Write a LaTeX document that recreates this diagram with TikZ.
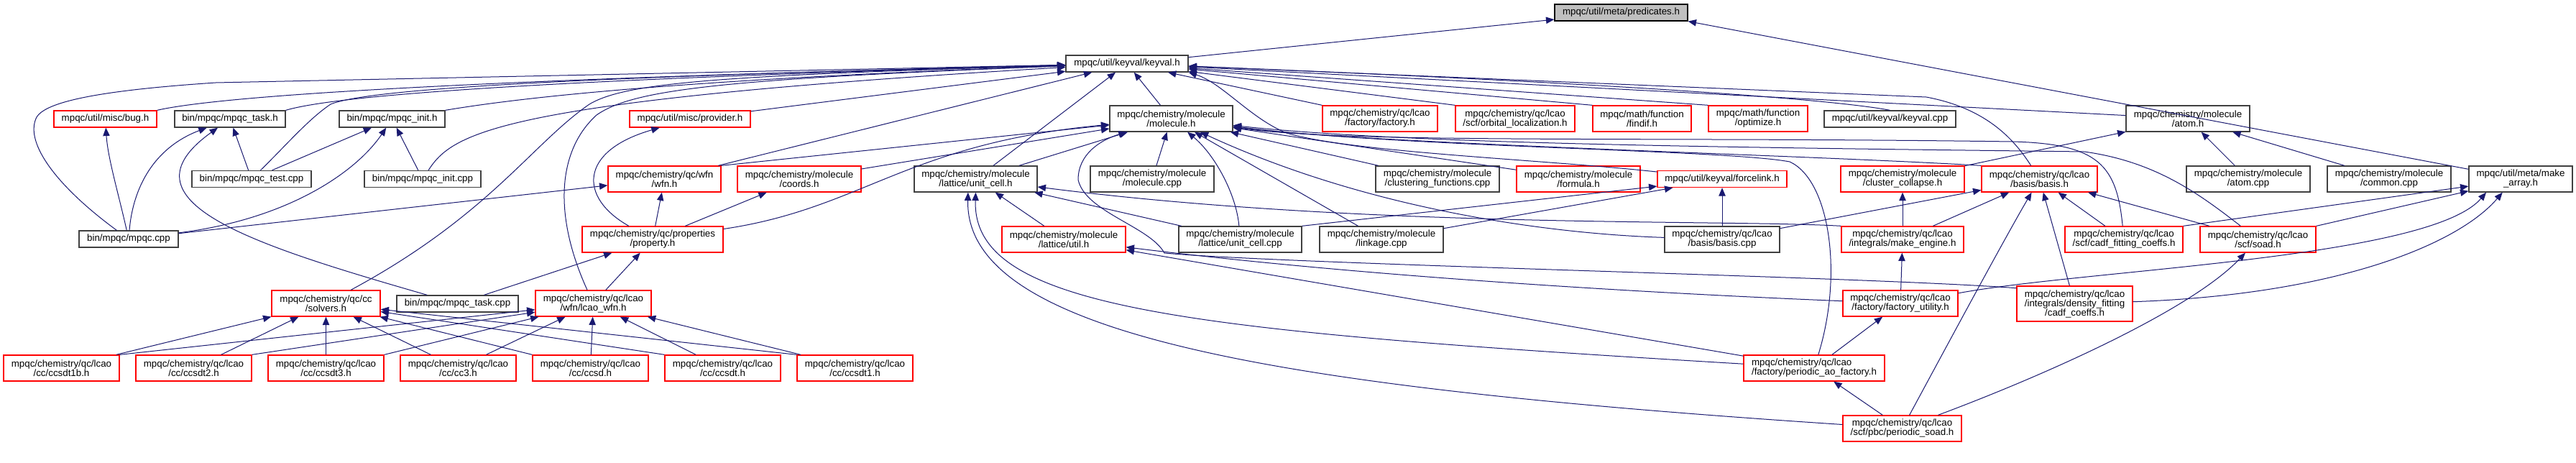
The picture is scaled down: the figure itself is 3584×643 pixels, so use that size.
\documentclass[tikz,border=0pt]{standalone}
\usepackage{fontspec}
\setmainfont{Liberation Sans}
\usepackage{xcolor}
\usepackage{tikz}
\usetikzlibrary{arrows.meta,positioning}
\definecolor{edgeblue}{HTML}{191970}
\definecolor{cutred}{HTML}{FF0000}
\definecolor{frame}{HTML}{404040}
\definecolor{focus}{HTML}{BFBFBF}

\begin{document}
\begin{tikzpicture}[x=0.75pt,y=-0.75pt,
    hfile/.style={draw=frame, line width=1pt, fill=white, inner sep=0pt, align=center,
      font={\fontsize{10}{9.75}\selectfont}},
    trunc/.style={hfile, draw=cutred},
    focusbox/.style={hfile, draw=black, fill=focus},
    w/.style={minimum width=#1*0.75pt},
    one/.style={minimum height=17.25pt},
    two/.style={minimum height=27pt},
    three/.style={minimum height=36.75pt},
    inc/.style={draw=edgeblue, line width=0.75pt, -{Triangle[length=8.5pt,width=7pt]}}]
  \fill[white] (0,0) rectangle (3584,643);
  \useasboundingbox (0,0) rectangle (3584,643);

  % row 0 and 1
  \node[focusbox, w=185, one] (pred) at (2255.5,17.5) {mpqc/util/meta/predicates.h};
  \node[hfile, w=170, one] (keyval) at (1568,88.5) {mpqc/util/keyval/keyval.h};

  % row 2
  \node[trunc, w=143, one] (bug) at (146.5,165.5) {mpqc/util/misc/bug.h};
  \node[hfile, w=154, one] (taskh) at (320,165.5) {bin/mpqc/mpqc\_task.h};
  \node[hfile, w=147, one] (inith) at (545.5,165.5) {bin/mpqc/mpqc\_init.h};
  \node[trunc, w=168, one] (provider) at (960,165.5) {mpqc/util/misc/provider.h};
  \node[hfile, w=171, two] (molh) at (1629.5,165) {mpqc/chemistry/molecule\\/molecule.h};
  \node[trunc, w=160, two] (factory) at (1920,165) {mpqc/chemistry/qc/lcao\\/factory/factory.h};
  \node[trunc, w=166, two] (orbloc) at (2108,165) {mpqc/chemistry/qc/lcao\\/scf/orbital\_localization.h};
  \node[trunc, w=137, two] (findif) at (2284.5,165) {mpqc/math/function\\/findif.h};
  \node[trunc, w=138, two] (optimize) at (2446,165) {mpqc/math/function\\/optimize.h};
  \node[hfile, w=183, one] (kvcpp) at (2629.5,165.5) {mpqc/util/keyval/keyval.cpp};
  \node[hfile, w=172, two] (atomh) at (3044,165) {mpqc/chemistry/molecule\\/atom.h};

  % row 3
  \node[hfile, w=166, one] (testcpp) at (350,249) {bin/mpqc/mpqc\_test.cpp};
  \node[hfile, w=162, one] (initcpp) at (588,249) {bin/mpqc/mpqc\_init.cpp};
  \node[trunc, w=157, two] (wfn) at (924.5,249) {mpqc/chemistry/qc/wfn\\/wfn.h};
  \node[trunc, w=172, two] (coords) at (1112,249) {mpqc/chemistry/molecule\\/coords.h};
  \node[hfile, w=171, two] (ucell) at (1357.5,249) {mpqc/chemistry/molecule\\/lattice/unit\_cell.h};
  \node[hfile, w=172, two] (molcpp) at (1603,249) {mpqc/chemistry/molecule\\/molecule.cpp};
  \node[hfile, w=172, two] (clustering) at (2000,249) {mpqc/chemistry/molecule\\/clustering\_functions.cpp};
  \node[trunc, w=172, two] (formula) at (2196,249) {mpqc/chemistry/molecule\\/formula.h};
  \node[trunc, w=180, one] (forcelink) at (2396,249) {mpqc/util/keyval/forcelink.h};
  \node[trunc, w=172, two] (collapse) at (2647,249) {mpqc/chemistry/molecule\\/cluster\_collapse.h};
  \node[trunc, w=161, two] (basish) at (2837.5,249) {mpqc/chemistry/qc/lcao\\/basis/basis.h};
  \node[hfile, w=172, two] (atomcpp) at (3128,249) {mpqc/chemistry/molecule\\/atom.cpp};
  \node[hfile, w=172, two] (common) at (3324,249) {mpqc/chemistry/molecule\\/common.cpp};
  \node[hfile, w=144, two] (makearray) at (3507,249) {mpqc/util/meta/make\\\_array.h};

  % row 4
  \node[hfile, w=138, one] (mpqccpp) at (179,332.5) {bin/mpqc/mpqc.cpp};
  \node[trunc, w=196, two] (property) at (908,333) {mpqc/chemistry/qc/properties\\/property.h};
  \node[trunc, w=172, two] (latutil) at (1480,333) {mpqc/chemistry/molecule\\/lattice/util.h};
  \node[hfile, w=171, two] (ucellcpp) at (1725.5,333) {mpqc/chemistry/molecule\\/lattice/unit\_cell.cpp};
  \node[hfile, w=172, two] (linkage) at (1922,333) {mpqc/chemistry/molecule\\/linkage.cpp};
  \node[hfile, w=160, two] (basiscpp) at (2396,333) {mpqc/chemistry/qc/lcao\\/basis/basis.cpp};
  \node[trunc, w=170, two] (engine) at (2647,333) {mpqc/chemistry/qc/lcao\\/integrals/make\_engine.h};
  \node[trunc, w=164, two] (fitcoeffs) at (2955,333) {mpqc/chemistry/qc/lcao\\/scf/cadf\_fitting\_coeffs.h};
  \node[trunc, w=161, two] (soad) at (3141.5,333) {mpqc/chemistry/qc/lcao\\/scf/soad.h};

  % row 5
  \node[trunc, w=151, two] (solvers) at (453.5,422) {mpqc/chemistry/qc/cc\\/solvers.h};
  \node[hfile, w=169, one] (taskcpp) at (636.5,422.5) {bin/mpqc/mpqc\_task.cpp};
  \node[trunc, w=161, two] (lcaowfn) at (825.5,422) {mpqc/chemistry/qc/lcao\\/wfn/lcao\_wfn.h};
  \node[trunc, w=160, two] (factutil) at (2644,422) {mpqc/chemistry/qc/lcao\\/factory/factory\_utility.h};
  \node[trunc, w=161, three] (cadfcoeffs) at (2886.5,422.5) {mpqc/chemistry/qc/lcao\\/integrals/density\_fitting\\/cadf\_coeffs.h};

  % row 6 and 7
  \node[trunc, w=161, two] (cc1b) at (85.5,512) {mpqc/chemistry/qc/lcao\\/cc/ccsdt1b.h};
  \node[trunc, w=161, two] (cc2) at (269.5,512) {mpqc/chemistry/qc/lcao\\/cc/ccsdt2.h};
  \node[trunc, w=161, two] (cc3t) at (453.5,512) {mpqc/chemistry/qc/lcao\\/cc/ccsdt3.h};
  \node[trunc, w=161, two] (cc3) at (637.5,512) {mpqc/chemistry/qc/lcao\\/cc/cc3.h};
  \node[trunc, w=161, two] (ccsd) at (821.5,512) {mpqc/chemistry/qc/lcao\\/cc/ccsd.h};
  \node[trunc, w=161, two] (ccsdt) at (1005.5,512) {mpqc/chemistry/qc/lcao\\/cc/ccsdt.h};
  \node[trunc, w=161, two] (cc1) at (1189.5,512) {mpqc/chemistry/qc/lcao\\/cc/ccsdt1.h};
  \node[trunc, w=196, two, align=left] (pao) at (2524,512) {mpqc/chemistry/qc/lcao\\/factory/periodic\_ao\_factory.h};
  \node[trunc, w=165, two] (psoad) at (2646.5,596) {mpqc/chemistry/qc/lcao\\/scf/pbc/periodic\_soad.h};

  % predicates.h
  \draw[inc] (keyval) -- (pred);
  \draw[inc] (makearray) -- (pred.south east);

  % keyval.h, left side
  \draw[inc] (bug.north east) .. controls (300,135) and (600,112) .. (keyval);
  \draw[inc] (taskh.north east) .. controls (460,135) and (700,112) .. (keyval);
  \draw[inc] (inith.north east) .. controls (700,140) and (900,112) .. (keyval);
  \draw[inc] (mpqccpp) .. controls (80,260) and (35,200) .. (50,165)
    .. controls (60,140) and (150,125) .. (300,115) -- (keyval);
  \draw[inc] (testcpp) .. controls (400,200) and (430,165) .. (460,145)
    .. controls (520,120) and (900,105) .. (keyval);
  \draw[inc] (initcpp) .. controls (630,185) and (690,140) .. (keyval);
  \draw[inc] (solvers) .. controls (680,300) and (740,200) .. (820,145)
    .. controls (870,115) and (1000,105) .. (keyval);
  \draw[inc] (lcaowfn) .. controls (770,300) and (775,210) .. (830,160)
    .. controls (880,125) and (1000,110) .. (keyval);
  \draw[inc] (provider) -- (keyval);
  \draw[inc] (wfn) -- (keyval);
  \draw[inc] (ucell) -- (keyval);
  \draw[inc] (molh) -- (keyval);

  % keyval.h, right side
  \draw[inc] (factory.north west) -- (keyval);
  \draw[inc] (orbloc.north west) -- (keyval);
  \draw[inc] (findif.north west) -- (keyval);
  \draw[inc] (optimize.north west) -- (keyval);
  \draw[inc] (kvcpp.north) .. controls (2560,140) and (2300,118) .. (keyval);
  \draw[inc] (atomh) -- (keyval);
  \draw[inc] (basish) .. controls (2800,190) and (2760,150) .. (2680,135) -- (keyval);
  \draw[inc] (forcelink) .. controls (2150,222) and (1880,212) .. (1790,185)
    .. controls (1740,165) and (1700,115) .. (keyval.south east);

  % molecule.h
  \draw[inc] (wfn.north east) -- (molh);
  \draw[inc] (coords) -- (molh);
  \draw[inc] (property) .. controls (1200,290) and (1260,200) .. (molh);
  \draw[inc] (ucell) -- (molh);
  \draw[inc] (molcpp) -- (molh);
  \draw[inc] (ucellcpp) .. controls (1720,270) and (1690,215) .. (molh);
  \draw[inc] (linkage) -- (molh);
  \draw[inc] (clustering) -- (molh);
  \draw[inc] (formula) -- (molh);
  \draw[inc] (basiscpp) .. controls (2150,325) and (1900,290) .. (molh);
  \draw[inc] (basish.north west) .. controls (2500,215) and (1900,200) .. (molh);
  \draw[inc] (fitcoeffs) .. controls (2945,230) and (2920,200) .. (2800,197)
    .. controls (2300,190) and (1880,200) .. (molh);
  \draw[inc] (soad) .. controls (3060,270) and (3000,225) .. (2900,211)
    .. controls (2400,205) and (1950,200) .. (molh);
  \draw[inc] (pao) .. controls (2565,380) and (2545,250) .. (2490,225)
    .. controls (2400,208) and (1950,205) .. (molh);
  \draw[inc] (cadfcoeffs.165) .. controls (2600,385) and (1800,368) .. (1620,352)
    .. controls (1600,315) and (1510,295) .. (1500,250)
    .. controls (1500,215) and (1530,195) .. (molh);

  % lattice/unit_cell.h and lattice/util.h
  \draw[inc] (latutil) -- (ucell);
  \draw[inc] (ucellcpp) -- (ucell);
  \draw[inc] (engine.north west) .. controls (2400,305) and (1900,318) .. (ucell);
  \draw[inc] (pao) .. controls (1650,460) and (1352,430) .. (ucell.south);
  \draw[inc] (psoad) .. controls (1800,540) and (1342,470) .. ([xshift=-8pt]ucell.south);
  \draw[inc] (factutil) .. controls (2300,408) and (1900,385) .. (latutil);
  \draw[inc] (pao) -- (latutil);

  % forcelink.h
  \draw[inc] (basiscpp) -- (forcelink);
  \draw[inc] (ucellcpp.north east) -- (forcelink);
  \draw[inc] (linkage) -- (forcelink);

  % basis.h
  \draw[inc] (basiscpp) -- (basish);
  \draw[inc] (engine) -- (basish);
  \draw[inc] (psoad) .. controls (2720,460) and (2790,330) .. (basish);
  \draw[inc] (cadfcoeffs) -- (basish);
  \draw[inc] (fitcoeffs) -- (basish);
  \draw[inc] (soad) -- (basish);

  % atom.h
  \draw[inc] (engine) -- (collapse);
  \draw[inc] (collapse) -- (atomh);
  \draw[inc] (atomcpp) -- (atomh);
  \draw[inc] (common) -- (atomh);

  % make_array.h
  \draw[inc] (fitcoeffs.north east) -- (makearray);
  \draw[inc] (soad) -- (makearray);
  \draw[inc] (factutil.10) .. controls (2900,375) and (3380,360) .. ([xshift=-36pt]makearray.south);
  \draw[inc] (cadfcoeffs) .. controls (3250,410) and (3420,340) .. ([xshift=-19pt]makearray.south);

  % periodic files
  \draw[inc] (pao) -- (factutil);
  \draw[inc] (factutil) -- (engine);
  \draw[inc] (psoad) -- (pao);
  \draw[inc] (psoad) .. controls (2850,520) and (3050,430) .. (soad);

  % coupled cluster files
  \foreach \cc in {cc1b,cc2,cc3t,cc3}
    \draw[inc] (\cc) -- (solvers);
  \foreach \cc in {ccsd,ccsdt,cc1}
    \draw[inc] (\cc.north west) -- (solvers);
  \foreach \cc in {cc1b,cc2,cc3t}
    \draw[inc] (\cc.north east) -- (lcaowfn);
  \foreach \cc in {cc3,ccsd,ccsdt,cc1}
    \draw[inc] (\cc) -- (lcaowfn);

  % properties
  \draw[inc] (lcaowfn) -- (property);
  \draw[inc] (taskcpp) -- (property);
  \draw[inc] (property) -- (wfn);
  \draw[inc] (property) -- (coords);
  \draw[inc] (property) .. controls (805,275) and (805,210) .. (provider);
  \draw[inc] (mpqccpp) -- (wfn);

  % bin/mpqc
  \draw[inc] (mpqccpp) .. controls (400,305) and (495,240) .. (inith);
  \draw[inc] (mpqccpp) .. controls (185,260) and (215,205) .. (taskh);
  \draw[inc] (mpqccpp) .. controls (165,270) and (150,220) .. (bug);
  \draw[inc] (testcpp) -- (taskh);
  \draw[inc] (testcpp) -- (inith);
  \draw[inc] (initcpp) -- (inith);
  \draw[inc] (taskcpp) .. controls (350,340) and (160,280) .. (taskh);
\end{tikzpicture}
\end{document}
